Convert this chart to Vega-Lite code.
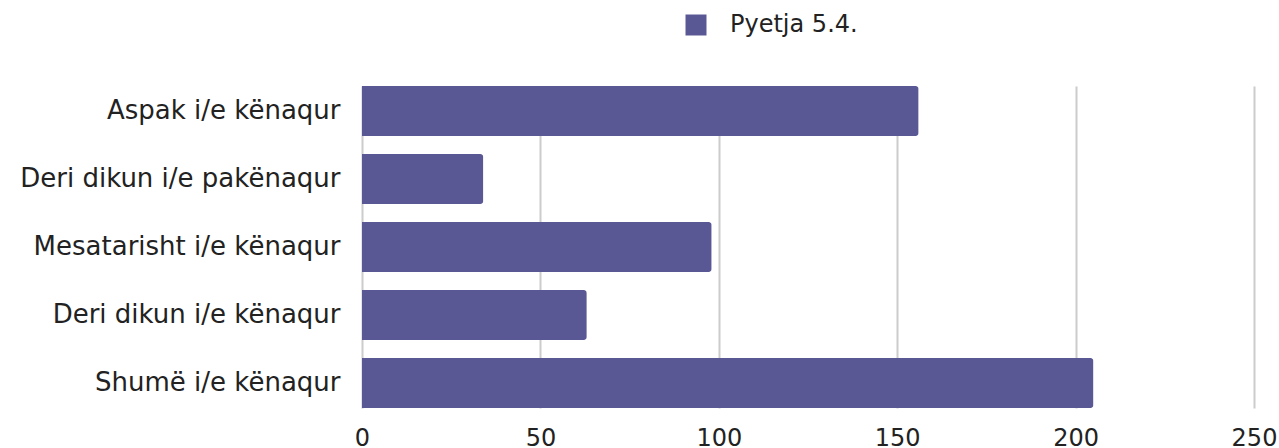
{
  "$schema": "https://vega.github.io/schema/vega-lite/v6.json",
  "autosize": {"type": "none"},
  "width": 892,
  "height": 322,
  "padding": {"left": 362, "top": 86, "right": 25, "bottom": 40},
  "background": "white",
  "data": {"values": [
    {"category": "Aspak i/e kënaqur", "value": 156, "series": "Pyetja 5.4."},
    {"category": "Deri dikun i/e pakënaqur", "value": 34, "series": "Pyetja 5.4."},
    {"category": "Mesatarisht i/e kënaqur", "value": 98, "series": "Pyetja 5.4."},
    {"category": "Deri dikun i/e kënaqur", "value": 63, "series": "Pyetja 5.4."},
    {"category": "Shumë i/e kënaqur", "value": 205, "series": "Pyetja 5.4."}
  ]},
  "mark": {"type": "bar", "cornerRadiusTopRight": 3, "cornerRadiusBottomRight": 3},
  "encoding": {
    "y": {
      "field": "category", "type": "nominal", "sort": null,
      "scale": {"paddingInner": 0.265, "paddingOuter": 0},
      "axis": {"title": null, "domain": false, "ticks": false, "labelFontSize": 26, "labelFont": "DejaVu Sans", "labelColor": "#222222", "labelPadding": 22, "labelLimit": 400}
    },
    "x": {
      "field": "value", "type": "quantitative",
      "scale": {"domain": [0, 250]},
      "axis": {"title": null, "values": [0, 50, 100, 150, 200, 250], "domain": false, "ticks": false, "grid": true, "gridColor": "#cccccc", "gridWidth": 2, "labelFontSize": 24, "labelFont": "DejaVu Sans", "labelColor": "#222222", "labelPadding": 18, "labelFlush": false}
    },
    "color": {
      "field": "series", "type": "nominal",
      "scale": {"range": ["#5a5894"]},
      "legend": {"title": null, "orient": "none", "legendX": 322, "legendY": -73, "symbolType": "square", "symbolSize": 441, "symbolStrokeWidth": 0, "labelFontSize": 24, "labelFont": "DejaVu Sans", "labelColor": "#222222", "labelOffset": 22}
    }
  },
  "config": {"view": {"stroke": null}}
}
